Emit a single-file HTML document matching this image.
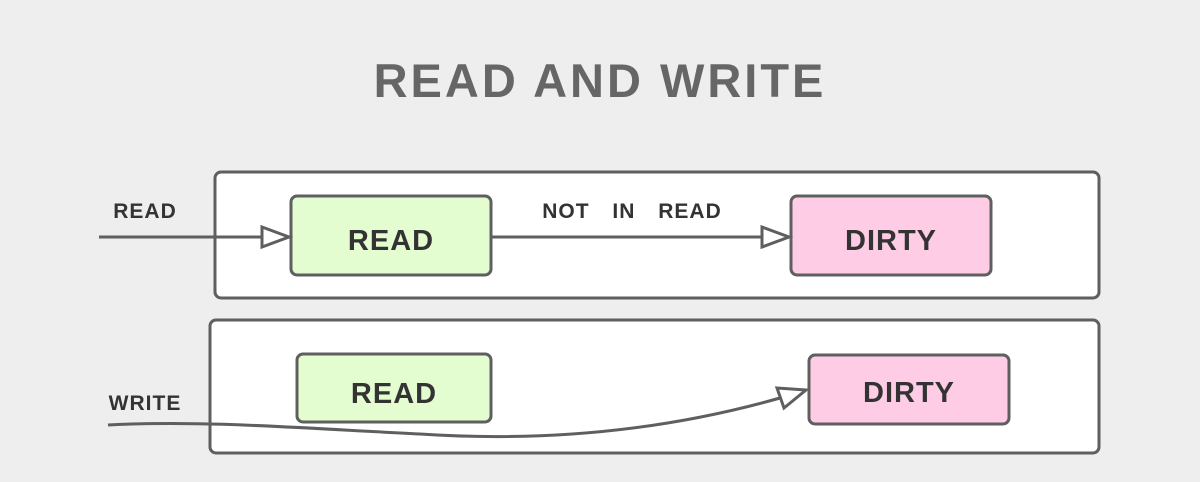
<html><body style="margin:0;background:#eeeeee">
<svg width="1200" height="482" viewBox="0 0 1200 482" xmlns="http://www.w3.org/2000/svg" style="display:block">
<rect width="1200" height="482" fill="#eeeeee"/>
<text x="600" y="97" text-anchor="middle" font-family="Liberation Sans, sans-serif" font-weight="bold" font-size="47" letter-spacing="3" fill="#666">READ AND WRITE</text>
<g stroke="#5f5f5f" stroke-width="3" font-family="Liberation Sans, sans-serif">
<rect x="215" y="172" width="884" height="126" rx="6" fill="#fff"/>
<rect x="210" y="320" width="889" height="133" rx="6" fill="#fff"/>
<rect x="291" y="196" width="200" height="79" rx="6" fill="#e3fcd0"/>
<rect x="791" y="196" width="200" height="79" rx="6" fill="#ffcce6"/>
<rect x="297" y="354" width="194" height="68" rx="6" fill="#e3fcd0"/>
<rect x="809" y="355" width="200" height="69" rx="6" fill="#ffcce6"/>
<line x1="99" y1="237" x2="262" y2="237"/>
<polygon points="262,227 289,237 262,247" fill="#fff"/>
<line x1="491" y1="237" x2="762" y2="237"/>
<polygon points="762,227 789,237 762,247" fill="#fff"/>
<path d="M108,425 C200,420 300,428 420,434 C540,442 660,432 780,398" fill="none"/>
<polygon points="777,388 806,390 784,408" fill="#fff"/>
</g>
<g font-family="Liberation Sans, sans-serif" font-weight="bold" fill="#333" text-anchor="middle" letter-spacing="1">
<text x="391" y="250" font-size="29">READ</text>
<text x="891" y="250" font-size="29">DIRTY</text>
<text x="394" y="403" font-size="29">READ</text>
<text x="909" y="402" font-size="29">DIRTY</text>
<text x="145" y="218" font-size="21">READ</text>
<text x="145" y="410" font-size="21">WRITE</text>
<text x="632" y="218" font-size="21" word-spacing="16">NOT IN READ</text>
</g>
</svg>
</body></html>
